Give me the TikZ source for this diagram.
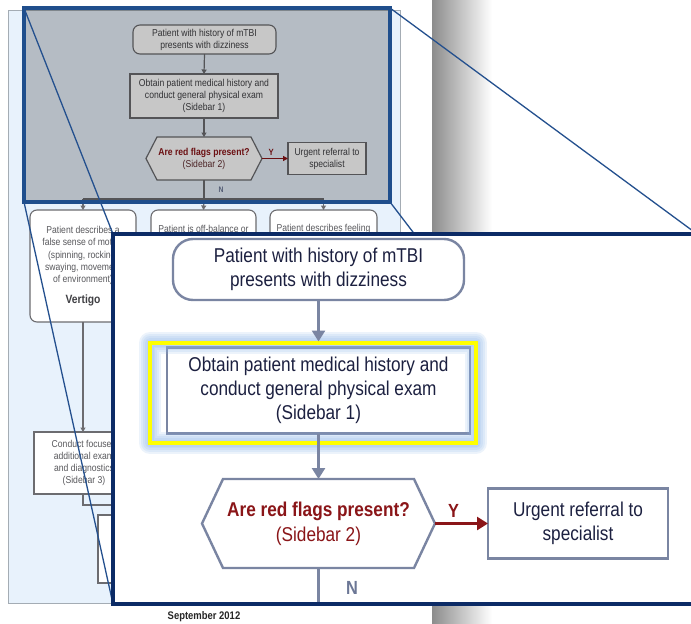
\documentclass[tikz,border=0pt]{standalone}
\usepackage{fontspec}
\setmainfont[FakeStretch=0.86]{Liberation Sans}
\usetikzlibrary{arrows.meta,calc}
\definecolor{c-pagebg}{HTML}{E8F2FC}
\definecolor{c-pageedge}{HTML}{A4ACB4}
\definecolor{c-sbox}{HTML}{6C6C70}
\definecolor{c-stxt}{HTML}{404044}
\definecolor{c-ptxt}{HTML}{58585C}
\definecolor{c-hl}{HTML}{1F4E8C}
\definecolor{c-navy}{HTML}{0C2B66}
\definecolor{c-link}{HTML}{24508E}
\definecolor{c-ibox}{HTML}{7A85A2}
\definecolor{c-itxt}{HTML}{1C2040}
\definecolor{c-red}{HTML}{8A1518}
\definecolor{c-glow}{HTML}{8DB6EA}
\definecolor{c-n}{HTML}{6C7796}
\definecolor{c-yel}{HTML}{FFFF00}
\newcommand{\fsz}[2]{\fontsize{#1}{#2}\selectfont}
\begin{document}
\begin{tikzpicture}[x=1pt,y=-1pt,
  sline/.style={draw=c-sbox, line width=1.2pt},
  sarrow/.style={sline, -{Triangle[width=5pt,length=4.5pt]}},
  sbox/.style={draw=c-sbox, line width=1.1pt, fill=white, text=c-stxt, align=center, font=\fsz{10}{12}, inner sep=0pt, outer sep=0pt},
  sround/.style={sbox, rounded corners=7pt},
  stext/.style={text=c-ptxt, align=center, font=\fsz{10}{12.3}, inner sep=0pt},
  iline/.style={draw=c-ibox, line width=2.6pt},
  iarrow/.style={iline, -{Triangle[width=13pt,length=11pt]}},
  ibox/.style={draw=c-ibox, line width=2.4pt, fill=white, text=c-itxt, align=center, font=\fsz{20}{24}, inner sep=0pt, outer sep=0pt},
  iround/.style={ibox, rounded corners=20pt},
  glowline/.style={preaction={draw=c-glow, line width=#1, draw opacity=0.16, line join=round}},
]
\useasboundingbox (0,0) rectangle (691,624);
\clip (0,0) rectangle (691,624);
\fill[white] (0,0) rectangle (691,624);
\shade[left color=black!45, right color=white] (432,0) rectangle (492,624);

% page panel
\node[draw=c-pageedge, fill=c-pagebg, line width=0.8pt, minimum width=392pt, minimum height=593pt, inner sep=0pt] (page) at (204,306.5) {};

% small flowchart on the page
\node[sround, minimum width=143pt, minimum height=29pt] (s1) at (204.5,39.5) {Patient with history of mTBI\\presents with dizziness};
\node[sbox, minimum width=148pt, minimum height=44pt] (s2) at (204,96) {Obtain patient medical history and\\conduct general physical exam\\(Sidebar 1)};
\coordinate (s3c) at (204,158.5);
\draw[sline, fill=white] ($(s3c)+(-58,0)$) -- ($(s3c)+(-47,-21.5)$) -- ($(s3c)+(47,-21.5)$) -- ($(s3c)+(58,0)$) -- ($(s3c)+(47,21.5)$) -- ($(s3c)+(-47,21.5)$) -- cycle;
\node[minimum width=116pt, minimum height=43pt, inner sep=0pt, outer sep=0pt, align=center, font=\fsz{10}{12}] (s3) at (s3c) {{\bfseries\color{c-red}Are red flags present?}\\{\color{c-red!45!c-stxt}(Sidebar 2)}};
\node[sbox, minimum width=78pt, minimum height=32pt] (s4) at (327,158.5) {Urgent referral to\\specialist};
\draw[sarrow] (s1.south) -- (s2.north);
\draw[sarrow] (s2.south) -- (s3.north);
\draw[draw=c-red, line width=1.3pt, -{Triangle[width=5pt,length=5pt]}] (s3.east) -- (s4.west) node[pos=0.35, above=2pt, font=\bfseries\fsz{9}{10}, text=c-red, inner sep=0pt] (sy) {Y};
\node[font=\bfseries\fsz{8}{9}, text=c-n, inner sep=0pt] (sn) at (221,190) {N};

\node[sround, minimum width=106pt, minimum height=112pt, text=c-ptxt, font=\fsz{10}{12.3}] (L) at (83,266) {Patient describes a\\false sense of motion\\(spinning, rocking,\\swaying, movement\\of environment)\\[8pt]{\bfseries\color{c-stxt}\fsz{12}{12}Vertigo}};
\node[sround, minimum width=105pt, minimum height=112pt] (M) at (203.5,266) {};
\node[stext] (Mt) at (203.5,229) {Patient is off-balance or};
\node[sround, minimum width=107pt, minimum height=112pt] (R) at (323.5,266) {};
\node[stext] (Rt) at (323.5,229) {Patient describes feeling};
\coordinate (sj) at (204,199);
\draw[sline] (s3.south) -- (sj);
\draw[sline] (L.north |- sj) -- (R.north |- sj);
\draw[sarrow] (L.north |- sj) -- (L.north);
\draw[sarrow] (sj) -- (M.north);
\draw[sarrow] (R.north |- sj) -- (R.north);

\node[sbox, minimum width=100pt, minimum height=62pt, text=c-ptxt] (C) at (84,463) {Conduct focused\\additional exam\\and diagnostics\\(Sidebar 3)};
\draw[sarrow] (L.south) -- (L.south |- C.north);
\node[sbox, minimum width=102pt, minimum height=68pt] (E) at (149,549) {};
\draw[sarrow] (L.south |- C.south) -- ++(0,11) -| (E.north);

% highlight overlay
\node[draw=c-hl, line width=4pt, fill=black, fill opacity=0.22, minimum width=366pt, minimum height=194pt, inner sep=0pt, outer sep=0pt] (hl) at (207,105) {};

\node[font=\bfseries\fsz{11}{12}, text=black!85, inner sep=0pt] (date) at (204,617) {September 2012};

% zoom connector lines
\coordinate (inw) at (113,234);
\coordinate (ine) at (697,234);
\coordinate (isw) at (113,604);
\coordinate (ise) at (697,604);
\draw[c-link, line width=1.3pt] (hl.north west) -- (inw);
\draw[c-link, line width=1.3pt] (hl.south west) -- (isw);
\draw[c-link, line width=1.3pt] (hl.north east) -- (ine);
\draw[c-link, line width=1.3pt] (hl.south east) -- (ise);

% inset
\node[draw=c-navy, line width=4pt, fill=white, minimum width=584pt, minimum height=370pt, inner sep=0pt, outer sep=0pt] (inset) at (405,419) {};

\node[iround, minimum width=291pt, minimum height=61pt] (i1) at (318.5,269.5) {Patient with history of mTBI\\presents with dizziness};
\node[ibox, minimum width=303pt, minimum height=86pt] (i2) at (318.5,390.5) {Obtain patient medical history and\\conduct general physical exam\\(Sidebar 1)};
\node[glowline=22pt, glowline=18pt, glowline=14pt, glowline=10pt, glowline=7pt,
      draw=c-yel, line width=4.5pt, minimum width=326pt, minimum height=100pt, inner sep=0pt, outer sep=0pt] (yel) at (313,393) {};
\draw[iarrow, shorten >=6pt] (i1.south) -- (i2.north);

\coordinate (hc) at (318.5,523.5);
\draw[iline, line width=2.4pt, fill=white] ($(hc)+(-116.5,0)$) -- ($(hc)+(-95.5,-44.5)$) -- ($(hc)+(95.5,-44.5)$) -- ($(hc)+(116.5,0)$) -- ($(hc)+(95.5,44.5)$) -- ($(hc)+(-95.5,44.5)$) -- cycle;
\node[minimum width=233pt, minimum height=89pt, inner sep=0pt, outer sep=0pt, align=center, font=\fsz{20}{25}, text=c-red] (hex) at (hc) {{\bfseries Are red flags present?}\\(Sidebar 2)};
\draw[iarrow] (i2.south) -- (hex.north);

\node[ibox, minimum width=180pt, minimum height=70pt] (i4) at (578,523.5) {Urgent referral to\\specialist};
\draw[draw=c-red, line width=2.6pt, -{Triangle[width=13pt,length=11pt]}] (hex.east) -- (i4.west) node[pos=0.35, above=5pt, font=\bfseries\fsz{19}{20}, text=c-red, inner sep=0pt] (iy) {Y};

\coordinate (nend) at (318.5,602);
\draw[iline] (hex.south) -- (nend);
\node[font=\bfseries\fsz{19}{20}, text=c-n, inner sep=0pt] (inN) at (352,588) {N};
\end{tikzpicture}
\end{document}
